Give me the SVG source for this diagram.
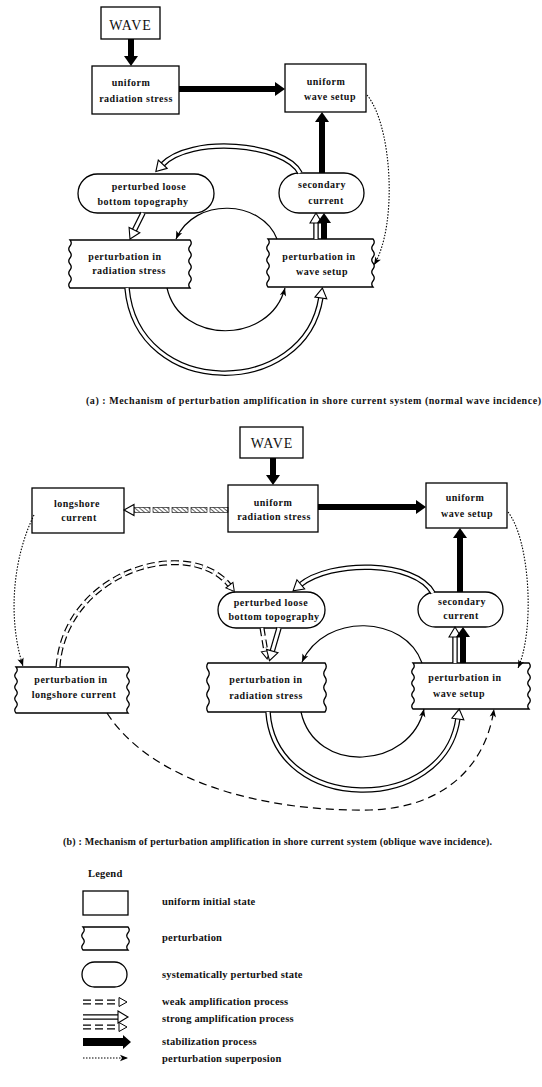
<svg xmlns="http://www.w3.org/2000/svg" width="542" height="1087" viewBox="0 0 542 1087">
<style>
.box{fill:#fff;stroke:#000;stroke-width:1.3}
.t{font-family:"Liberation Serif","Times New Roman",serif;font-size:10px;font-weight:bold;letter-spacing:0.5px;text-anchor:middle;fill:#111}
.wave{font-size:14px;font-weight:normal;letter-spacing:1px}
.cap{text-anchor:start;letter-spacing:0}
.leg{font-size:10.5px;text-anchor:start;letter-spacing:0.2px}
.thick{fill:none;stroke:#000;stroke-width:6;marker-end:url(#hSolid)}
.dblO{fill:none;stroke:#000;stroke-width:5.5}
.dblI{fill:none;stroke:#fff;stroke-width:3;marker-end:url(#hOpen)}
.dshO{fill:none;stroke:#000;stroke-width:5;stroke-dasharray:8 4}
.dshI{fill:none;stroke:#fff;stroke-width:2.6;stroke-dasharray:8 4;marker-end:url(#hWeak)}
.thin{fill:none;stroke:#000;stroke-width:1.2;marker-end:url(#hThin)}
.dot{fill:none;stroke:#000;stroke-width:1.1;stroke-dasharray:1.5 1.5;marker-end:url(#hThin)}
.dash{fill:none;stroke:#000;stroke-width:1.2;stroke-dasharray:8 5;marker-end:url(#hThin)}
</style>
<defs>
<marker id="hSolid" markerUnits="userSpaceOnUse" viewBox="-2 -8 16 16" markerWidth="16" markerHeight="16" refX="2" refY="0" orient="auto" style="overflow:visible"><polygon points="0,-7 10,0 0,7" fill="#000"/></marker>
<marker id="hOpen" markerUnits="userSpaceOnUse" viewBox="-2 -8 16 16" markerWidth="16" markerHeight="16" refX="1" refY="0" orient="auto" style="overflow:visible"><polygon points="0,-6 10,0 0,6" fill="#fff" stroke="#000" stroke-width="1.1"/></marker>
<marker id="hWeak" markerUnits="userSpaceOnUse" viewBox="-2 -8 16 16" markerWidth="16" markerHeight="16" refX="1" refY="0" orient="auto" style="overflow:visible"><polygon points="0,-4.5 8,0 0,4.5" fill="#fff" stroke="#000" stroke-width="1"/></marker>
<marker id="hThin" markerUnits="userSpaceOnUse" viewBox="-10 -5 12 10" markerWidth="12" markerHeight="10" refX="0" refY="0" orient="auto" style="overflow:visible"><path d="M-8,-3.2 L0,0 L-8,3.2 L-6,0 Z" fill="#000"/></marker>
<pattern id="hatch" patternUnits="userSpaceOnUse" width="3" height="3" patternTransform="rotate(-50)"><line x1="0" y1="0" x2="0" y2="3" stroke="#000" stroke-width="1.2"/></pattern>
</defs>

<!-- ===== Diagram (a) ===== -->
<g id="a-wave"><rect class="box" x="101" y="7" width="59" height="32"/><text class="t wave" x="130.5" y="30">WAVE</text></g>
<g id="a-uniform-radiation-stress"><rect class="box" x="92" y="66" width="87" height="48"/><text class="t" x="131" y="86">uniform</text><text class="t" x="136" y="102">radiation stress</text></g>
<g id="a-uniform-wave-setup"><rect class="box" x="285" y="64" width="81" height="48"/><text class="t" x="326" y="85">uniform</text><text class="t" x="330" y="100">wave setup</text></g>
<g id="a-secondary-current"><rect class="box" x="279" y="173" width="85" height="40" rx="20"/><text class="t" x="322" y="188">secondary</text><text class="t" x="326" y="204">current</text></g>
<g id="a-perturbed-loose"><rect class="box" x="78" y="174" width="136" height="39" rx="19.5"/><text class="t" x="149" y="190">perturbed loose</text><text class="t" x="143" y="205">bottom topography</text></g>
<g id="a-pert-radiation-stress"><path class="box" d="M70,240 H190 q2.5,3 0,6 t0,6 t0,6 t0,6 t0,6 t0,6 t0,6 t0,6 H70 q-2.5,-3 0,-6 t0,-6 t0,-6 t0,-6 t0,-6 t0,-6 t0,-6 t0,-6 Z"/><text class="t" x="125" y="260">perturbation in</text><text class="t" x="129" y="274">radiation stress</text></g>
<g id="a-pert-wave-setup"><path class="box" d="M268,239 H373 q2.5,3 0,6 t0,6 t0,6 t0,6 t0,6 t0,6 t0,6 t0,6 H268 q-2.5,-3 0,-6 t0,-6 t0,-6 t0,-6 t0,-6 t0,-6 t0,-6 t0,-6 Z"/><text class="t" x="319" y="260">perturbation in</text><text class="t" x="322" y="275">wave setup</text></g>

<g id="a-connectors">
<path class="thick" d="M131,39 L131,58"/>
<path class="thick" d="M179,89 L277,89"/>
<path class="thick" d="M322,173 L322,120"/>
<path class="dblO" d="M316,239 L316,222"/><path class="dblI" d="M316,239 L316,222"/>
<path class="thick" d="M324,239 L324,221"/>
<path class="dblO" d="M300,173 C285,143 190,135 162,165"/><path class="dblI" d="M300,173 C285,143 190,135 162,165"/>
<path class="dblO" d="M143,213 L134,231"/><path class="dblI" d="M143,213 L134,231"/>
<path class="thin" d="M277,239 C262,200 195,196 176,239"/>
<path class="thin" d="M167,288 C180,345 270,345 285,288"/>
<path class="dblO" d="M127,288 C137,400 305,400 321,297"/><path class="dblI" d="M127,288 C137,400 305,400 321,297"/>
<path class="dot" d="M367,95 C392,125 398,225 374,265"/>
</g>
<text class="t cap" x="86" y="404" textLength="455" lengthAdjust="spacing">(a) : Mechanism of perturbation amplification in shore current system (normal wave incidence)</text>

<!-- ===== Diagram (b) ===== -->
<g id="b-wave"><rect class="box" x="240" y="427" width="63" height="31"/><text class="t wave" x="272" y="448">WAVE</text></g>
<g id="b-uniform-radiation-stress"><rect class="box" x="228" y="485" width="90" height="47"/><text class="t" x="273" y="506">uniform</text><text class="t" x="274" y="520">radiation stress</text></g>
<g id="b-longshore-current"><rect class="box" x="32" y="488" width="92" height="45"/><text class="t" x="77" y="507">longshore</text><text class="t" x="79" y="521">current</text></g>
<g id="b-uniform-wave-setup"><rect class="box" x="426" y="483" width="81" height="45"/><text class="t" x="465" y="501">uniform</text><text class="t" x="467" y="517">wave setup</text></g>
<g id="b-secondary-current"><rect class="box" x="418" y="592" width="85" height="35" rx="17.5"/><text class="t" x="462" y="605">secondary</text><text class="t" x="461" y="619">current</text></g>
<g id="b-perturbed-loose"><rect class="box" x="218" y="592" width="107" height="36" rx="18"/><text class="t" x="271" y="606">perturbed loose</text><text class="t" x="274" y="620">bottom topography</text></g>
<g id="b-pert-longshore-current"><path class="box" d="M16,667 H128 q2.5,2.875 0,5.75 t0,5.75 t0,5.75 t0,5.75 t0,5.75 t0,5.75 t0,5.75 t0,5.75 H16 q-2.5,-2.875 0,-5.75 t0,-5.75 t0,-5.75 t0,-5.75 t0,-5.75 t0,-5.75 t0,-5.75 t0,-5.75 Z"/><text class="t" x="71" y="683">perturbation in</text><text class="t" x="74" y="698">longshore current</text></g>
<g id="b-pert-radiation-stress"><path class="box" d="M208,663 H325 q2.5,3.5 0,7 t0,7 t0,7 t0,7 t0,7 t0,7 t0,7 H208 q-2.5,-3.5 0,-7 t0,-7 t0,-7 t0,-7 t0,-7 t0,-7 t0,-7 Z"/><text class="t" x="266" y="683">perturbation in</text><text class="t" x="266" y="699">radiation stress</text></g>
<g id="b-pert-wave-setup"><path class="box" d="M413,663 H529 q2.5,2.875 0,5.75 t0,5.75 t0,5.75 t0,5.75 t0,5.75 t0,5.75 t0,5.75 t0,5.75 H413 q-2.5,-2.875 0,-5.75 t0,-5.75 t0,-5.75 t0,-5.75 t0,-5.75 t0,-5.75 t0,-5.75 t0,-5.75 Z"/><text class="t" x="465" y="681">perturbation in</text><text class="t" x="459" y="697">wave setup</text></g>

<g id="b-connectors">
<path class="thick" d="M273,458 L273,477"/>
<path class="thick" d="M318,507 L418,507"/>
<path class="thick" d="M460,592 L460,536"/>
<path class="dblO" d="M455,663 L455,636"/><path class="dblI" d="M455,663 L455,636"/>
<path class="thick" d="M463,663 L463,635"/>
<g id="b-hatched">
<rect x="134" y="507.5" width="16" height="5" fill="url(#hatch)" stroke="#000" stroke-width="0.6"/>
<rect x="153" y="507.5" width="16" height="5" fill="url(#hatch)" stroke="#000" stroke-width="0.6"/>
<rect x="172" y="507.5" width="16" height="5" fill="url(#hatch)" stroke="#000" stroke-width="0.6"/>
<rect x="191" y="507.5" width="16" height="5" fill="url(#hatch)" stroke="#000" stroke-width="0.6"/>
<rect x="210" y="507.5" width="18" height="5" fill="url(#hatch)" stroke="#000" stroke-width="0.6"/>
<polygon points="124,510 134,504.5 134,515.5" fill="#fff" stroke="#000" stroke-width="1.1"/>
</g>
<path class="dblO" d="M433,593 C415,560 330,560 300,585"/><path class="dblI" d="M433,593 C415,560 330,560 300,585"/>
<path class="dshO" d="M58,667 C65,570 190,535 230,586"/><path class="dshI" d="M58,667 C65,570 190,535 230,586"/>
<path class="dshO" d="M262,628 L266,652"/><path class="dshI" d="M262,628 L266,652"/>
<path class="dblO" d="M279,628 L272,652"/><path class="dblI" d="M279,628 L272,652"/>
<path class="thin" d="M422,663 C405,615 325,612 302,662"/>
<path class="thin" d="M301,712 C315,775 410,770 424,709"/>
<path class="dblO" d="M268,712 C275,815 445,815 458,718"/><path class="dblI" d="M268,712 C275,815 445,815 458,718"/>
<path class="dash" d="M107,713 C150,780 260,812 370,810 C440,808 485,770 494,709"/>
<path class="dot" d="M508,512 C530,540 535,630 518,668"/>
<path class="dot" d="M34,515 C12,560 8,620 23,666"/>
</g>
<text class="t cap" x="63" y="845" textLength="429" lengthAdjust="spacing">(b) : Mechanism of perturbation amplification in shore current system (oblique wave incidence).</text>

<!-- ===== Legend ===== -->
<g id="legend">
<text class="t leg" x="88" y="877">Legend</text>
<rect class="box" x="83" y="891" width="45" height="24"/>
<text class="t leg" x="162" y="905">uniform initial state</text>
<path class="box" d="M83,927 H128 q2.5,2.875 0,5.75 t0,5.75 t0,5.75 t0,5.75 H83 q-2.5,-2.875 0,-5.75 t0,-5.75 t0,-5.75 t0,-5.75 Z"/>
<text class="t leg" x="162" y="941">perturbation</text>
<rect class="box" x="82" y="962" width="45" height="25" rx="12.5"/>
<text class="t leg" x="162" y="978">systematically perturbed state</text>
<path class="dshO" d="M83,1002 L120,1002"/><path class="dshI" d="M83,1002 L120,1002"/>
<text class="t leg" x="162" y="1005">weak amplification process</text>
<path class="dblO" d="M83,1017 L119,1017"/><path class="dblI" d="M83,1017 L119,1017"/>
<path class="dshO" d="M83,1027 L120,1027"/><path class="dshI" d="M83,1027 L120,1027"/>
<text class="t leg" x="162" y="1022">strong amplification process</text>
<polygon points="83,1038 123,1038 123,1035 131,1042 123,1049 123,1046 83,1046" fill="#000"/>
<text class="t leg" x="162" y="1045">stabilization process</text>
<path class="dot" d="M83,1058 L128,1058"/>
<text class="t leg" x="162" y="1062">perturbation superposion</text>
</g>
</svg>
